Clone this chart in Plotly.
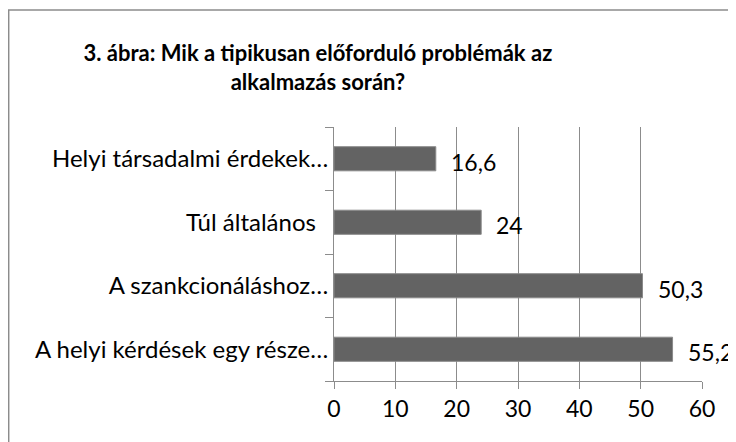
import plotly.graph_objects as go

categories = ["A helyi kérdések egy része…", "A szankcionáláshoz…", "Túl általános\u00a0\u00a0", "Helyi társadalmi érdekek…"]
values = [55.2, 50.3, 24, 16.6]
value_labels = ["55,2", "50,3", "24", "16,6"]
x_ticks = [0, 10, 20, 30, 40, 50, 60]

FONT = "Lato"
fig = go.Figure()
fig.add_trace(go.Bar(
    y=categories, x=values, orientation="h",
    marker=dict(color="#636363", line=dict(color="#8a8a8a", width=1)),
    width=0.38,
))
for c, v, t in zip(categories, values, value_labels):
    fig.add_annotation(x=v, y=c, text=t, showarrow=False, xanchor="left",
                       xshift=13, yshift=-3, font=dict(size=23, color="black", family=FONT))

fig.update_layout(
    width=736, height=442,
    margin=dict(l=326, r=42, t=119, b=69),
    paper_bgcolor="white", plot_bgcolor="white",
    showlegend=False,
    title=dict(text="<b>3. ábra: Mik a tipikusan előforduló problémák az<br>alkalmazás során?</b>",
               x=0.421, xanchor="center", y=0.880, yanchor="middle",
               font=dict(size=22, color="black", family=FONT)),
    xaxis=dict(range=[0, 60], tickvals=x_ticks, showgrid=True, gridcolor="#8c8c8c", gridwidth=1,
               showline=True, linecolor="#8c8c8c", ticks="outside", ticklen=7, tickcolor="#8c8c8c",
               tickfont=dict(size=23, color="black", family=FONT), zeroline=False, automargin=False),
    yaxis=dict(type="category", categoryorder="array", categoryarray=categories,
               tickson="boundaries", ticks="outside", ticklen=8, tickcolor="#8c8c8c",
               showline=True, linecolor="#8c8c8c", showgrid=False, automargin=False,
               tickfont=dict(size=24, color="black", family=FONT)),
    shapes=[dict(type="rect", xref="paper", yref="paper", x0=-0.884, x1=1.076, y0=-0.5, y1=1.461,
                 line=dict(color="#8c8c8c", width=1.5), fillcolor="rgba(0,0,0,0)", layer="below")],
)
fig.write_html("out.html")
